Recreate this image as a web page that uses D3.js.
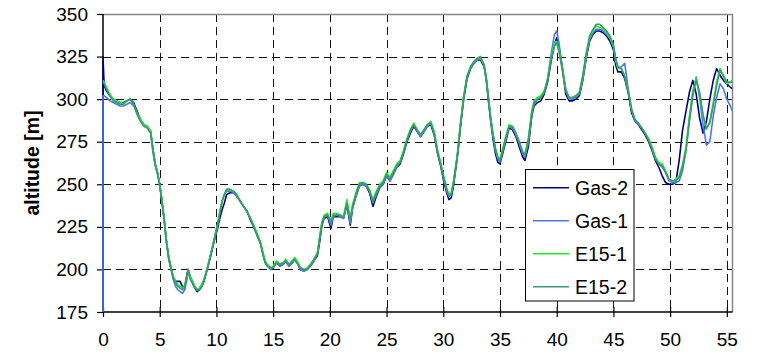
<!DOCTYPE html>
<html>
<head>
<meta charset="utf-8">
<script src="https://cdn.jsdelivr.net/npm/d3@7"></script>
<style>
  html, body { margin: 0; padding: 0; background: #fff; }
  svg { display: block; font-family: "Liberation Sans", Arial, sans-serif; }
</style>
</head>
<body>
<svg id="chart" width="758" height="355"></svg>
<script>
// Distance along the route [km]
const distanceKm = [
  0, 0, 0.1, 0.3, 0.6, 0.9, 1.2, 1.5, 1.8, 2.1,
  2.4, 2.7, 3.0, 3.3, 3.6, 3.9, 4.2, 4.4, 4.6, 4.8,
  5.0, 5.2, 5.4, 5.6, 5.8, 6.0, 6.2, 6.4, 6.6, 6.8,
  7.0, 7.2, 7.4, 7.5, 7.7, 7.9, 8.1, 8.3, 8.5, 8.7,
  8.9, 9.1, 9.3, 9.5, 9.7, 9.9, 10.1, 10.3, 10.5, 10.7,
  10.9, 11.2, 11.5, 11.8, 12.1, 12.4, 12.7, 13.0, 13.3, 13.6,
  13.9, 14.1, 14.3, 14.5, 14.8, 15.0, 15.3, 15.6, 15.9, 16.1,
  16.4, 16.7, 16.9, 17.2, 17.4, 17.7, 18.0, 18.3, 18.6, 18.9,
  19.1, 19.3, 19.5, 19.8, 20.1, 20.3, 20.6, 20.9, 21.2, 21.5,
  21.8, 22.0, 22.3, 22.6, 22.9, 23.2, 23.5, 23.8, 24.1, 24.4,
  24.7, 25.0, 25.3, 25.6, 25.9, 26.2, 26.5, 26.8, 27.1, 27.4,
  27.7, 28.0, 28.3, 28.6, 28.9, 29.2, 29.5, 29.8, 30.0, 30.3,
  30.5, 30.7, 30.9, 31.1, 31.3, 31.5, 31.8, 32.1, 32.4, 32.7,
  33.0, 33.3, 33.6, 33.8, 34.0, 34.2, 34.4, 34.6, 34.8, 35.0,
  35.2, 35.5, 35.8, 36.1, 36.4, 36.7, 37.0, 37.2, 37.5, 37.8,
  38.0, 38.3, 38.6, 38.9, 39.2, 39.5, 39.8, 40.0, 40.2, 40.5,
  40.8, 41.1, 41.4, 41.7, 42.0, 42.3, 42.6, 42.9, 43.2, 43.5,
  43.8, 44.1, 44.4, 44.7, 45.0, 45.2, 45.4, 45.7, 46.0, 46.3,
  46.6, 46.9, 47.2, 47.5, 47.8, 48.1, 48.4, 48.7, 49.0, 49.3,
  49.6, 49.9, 50.2, 50.5, 50.8, 51.1, 51.4, 51.7, 52.0, 52.3,
  52.6, 52.9, 53.2, 53.5, 53.8, 54.1, 54.4, 54.7, 55.0, 55.3,
  55.5
];

// Altitude [m] logged on each run
const gas2 = [
  165, 325, 308, 305, 302, 300, 299, 298, 298, 299,
  300, 298, 293, 288, 285, 284, 281, 271, 262, 257,
  250, 240, 229, 216, 207, 201, 195, 193, 193, 193,
  190, 189, 197, 200, 195, 192, 189, 187, 188, 190,
  193, 198, 203, 208, 214, 219, 224, 230, 235, 239,
  244, 245, 245, 243, 240, 237, 234, 229, 225, 220,
  215, 209, 204, 202, 200, 201, 204, 202, 203, 205,
  202, 204, 206, 203, 200, 199, 200, 202, 205, 208,
  216, 226, 230, 231, 224, 231, 231, 231, 230, 238,
  226, 236, 243, 249, 250, 249, 245, 237, 243, 248,
  250, 255, 252, 256, 260, 262, 268, 275, 280, 284,
  281, 278, 281, 284, 285, 279, 268, 260, 253, 245,
  241, 242, 249, 259, 269, 283, 300, 312, 318, 321,
  323, 323, 319, 311, 298, 286, 276, 268, 263, 262,
  267, 275, 283, 282, 278, 272, 266, 264, 272, 290,
  296, 298, 299, 303, 310, 322, 332, 336, 330, 318,
  303, 299, 299, 300, 302, 311, 324, 334, 338, 340,
  340, 339, 337, 334, 329, 320, 316, 316, 312, 304,
  292, 287, 285, 282, 279, 275, 270, 264, 260, 255,
  251, 250, 250, 251, 264, 282, 293, 304, 311, 303,
  289, 280, 287, 300, 311, 318, 314, 311, 309, 307,
  306
];

const gas1 = [
  165, 302, 302, 301, 299, 298, 297, 296, 296, 297,
  298, 296, 292, 288, 285, 284, 281, 271, 262, 257,
  250, 241, 230, 217, 206, 200, 194, 190, 188, 187,
  186, 188, 194, 200, 196, 193, 190, 188, 189, 191,
  194, 198, 203, 209, 215, 221, 227, 234, 240, 244,
  246, 246, 245, 243, 240, 237, 234, 230, 225, 220,
  215, 209, 204, 202, 200, 201, 204, 202, 203, 205,
  202, 204, 206, 203, 200, 199, 200, 202, 205, 209,
  218, 227, 231, 232, 226, 231, 232, 231, 230, 239,
  227, 236, 243, 249, 250, 249, 246, 239, 244, 248,
  250, 255, 252, 256, 260, 263, 269, 276, 281, 285,
  281, 278, 281, 284, 286, 280, 269, 261, 254, 246,
  243, 244, 250, 260, 270, 284, 301, 313, 318, 321,
  323, 324, 320, 311, 299, 287, 278, 270, 265, 263,
  268, 276, 284, 283, 279, 274, 268, 266, 274, 291,
  297, 300, 301, 304, 312, 326, 338, 340, 333, 319,
  305, 300, 300, 301, 303, 312, 325, 335, 339, 341,
  341, 340, 338, 336, 331, 323, 318, 319, 321, 306,
  294, 287, 285, 283, 280, 276, 271, 265, 262, 260,
  257, 252, 251, 251, 252, 258, 270, 287, 302, 313,
  301, 285, 273, 275, 290, 301, 309, 306, 300, 296,
  293
];

const e15_1 = [
  311, 311, 310, 307, 303, 300, 299, 298, 297.5, 299,
  300, 297, 292, 288, 285, 284, 281, 270, 262, 257,
  250, 240, 229, 216, 207, 201, 196, 193, 191, 190,
  189, 191, 196, 199, 195, 193, 190, 188, 189, 191,
  194, 199, 204, 209, 215, 220, 226, 234, 240, 244,
  247, 247, 246, 244, 240, 237, 234, 230, 226, 221,
  216, 210, 205, 203, 201, 202, 205, 203, 204, 206,
  203, 205, 207, 204, 201, 200, 201, 203, 206, 210,
  219, 228, 232, 233, 228, 233, 233, 232, 231, 241,
  230, 238, 245, 251, 251, 250, 247, 241, 246, 250,
  252, 257, 254, 258, 262, 264, 270, 277, 282, 286,
  282, 279, 282, 285, 287, 281, 270, 262, 256, 248,
  244, 245, 252, 261, 271, 285, 302, 314, 319, 322,
  324, 324, 320, 312, 300, 288, 279, 271, 266, 265,
  270, 278, 285, 284, 280, 275, 269, 268, 277, 293,
  299, 301, 302, 305, 312, 324, 333, 334, 329, 318,
  306, 301, 301, 302, 304, 313, 326, 336, 340, 343,
  342, 341, 339, 336, 331, 323, 318, 318, 314, 305,
  294, 288, 286, 283, 280, 277, 272, 266, 263, 262,
  258, 253, 252, 253, 255, 262, 272, 290, 305, 312,
  303, 290, 282, 287, 298, 310, 318, 313, 309, 310,
  311
];

const e15_2 = [
  310, 310, 309, 306, 302, 299, 298, 297, 297, 299,
  300, 297, 291, 287, 284, 283, 280, 269, 261, 256,
  249, 239, 228, 215, 206, 200, 195, 192, 190, 189,
  188, 190, 196, 199, 194, 192, 189, 188, 188, 190,
  193, 198, 203, 209, 214, 220, 226, 233, 240, 244,
  247, 247, 246, 244, 240, 237, 234, 230, 225, 220,
  215, 209, 204, 202, 201, 201, 204, 203, 204, 205,
  203, 205, 206, 203, 201, 200, 200, 203, 206, 209,
  218, 227, 231, 232, 228, 232, 232, 232, 230, 239,
  229, 237, 244, 250, 251, 250, 246, 240, 245, 249,
  251, 256, 253, 257, 261, 263, 269, 276, 282, 285,
  282, 279, 282, 285, 286, 280, 269, 261, 255, 247,
  243, 244, 251, 260, 270, 284, 301, 313, 319, 322,
  324, 325, 320, 312, 300, 288, 279, 271, 266, 264,
  269, 277, 284, 284, 280, 275, 269, 267, 276, 292,
  298, 300, 301, 304, 311, 323, 331, 333, 328, 317,
  305, 301, 301, 302, 304, 314, 327, 337, 341, 344,
  344, 342, 340, 337, 332, 324, 319, 318, 313, 305,
  294, 288, 286, 283, 280, 276, 271, 265, 262, 261,
  257, 253, 252, 252, 254, 260, 270, 288, 303, 311,
  304, 291, 283, 286, 296, 308, 317, 314, 310, 310,
  310
];

const seriesNames = ["Gas-2", "Gas-1", "E15-1", "E15-2"];
const seriesValues = [gas2, gas1, e15_1, e15_2];
const seriesColors = ["#000080", "#4a78f0", "#22ee22", "#3a9a6a"];

const xTicks = [0, 5, 10, 15, 20, 25, 30, 35, 40, 45, 50, 55];
const yTicks = [175, 200, 225, 250, 275, 300, 325, 350];
const yTitle = "altitude [m]";

// ---- layout ----
const svg = d3.select("#chart");
const plotL = 103, plotR = 732.5, plotT = 14, plotB = 312;

const x = d3.scaleLinear().domain([0, 55.5]).range([plotL, plotR]);
const y = d3.scaleLinear().domain([175, 350]).range([plotB, plotT]);

svg.append("defs").append("clipPath").attr("id", "plotClip")
  .append("rect").attr("x", plotL - 1).attr("y", plotT)
  .attr("width", plotR - plotL + 1).attr("height", plotB - plotT);

// dashed grid
const grid = svg.append("g").attr("stroke", "#111").attr("stroke-width", 1)
  .attr("stroke-dasharray", "8,5").attr("shape-rendering", "crispEdges");
grid.selectAll("line.v").data(xTicks.filter(d => d > 0)).join("line")
  .attr("class", "v")
  .attr("x1", d => Math.round(x(d)) + 0.5).attr("x2", d => Math.round(x(d)) + 0.5)
  .attr("y1", plotT).attr("y2", plotB);
grid.selectAll("line.h").data(yTicks.filter(d => d > 175 && d < 350)).join("line")
  .attr("class", "h")
  .attr("y1", d => Math.round(y(d)) + 0.5).attr("y2", d => Math.round(y(d)) + 0.5)
  .attr("x1", plotL).attr("x2", plotR);

// frame: grey top/right edges
svg.append("path")
  .attr("d", `M${plotL},${plotT + 0.5}H${plotR}V${plotB}`)
  .attr("fill", "none").attr("stroke", "#888").attr("stroke-width", 1.5);

// axes
const xAxis = d3.axisBottom(x).tickValues(xTicks).tickSize(5).tickPadding(16);
const gx = svg.append("g").attr("transform", `translate(0,${plotB})`).call(xAxis);
const yAxis = d3.axisLeft(y).tickValues(yTicks).tickSize(6).tickPadding(9);
const gy = svg.append("g").attr("transform", `translate(${plotL},0)`).call(yAxis);

[gx, gy].forEach(g => {
  g.select(".domain").attr("stroke", "#000").attr("stroke-width", 1.5);
  g.selectAll(".tick line").attr("stroke", "#000").attr("stroke-width", 1.2);
  g.selectAll(".tick text").attr("font-size", 19).attr("fill", "#000")
    .attr("font-family", "'Liberation Sans', Arial, sans-serif");
});
gx.selectAll(".tick line").attr("y1", -5).attr("y2", 5);
gy.select(".domain").attr("d", `M0,${plotT}V${plotB}`);
gx.select(".domain").attr("d", `M${plotL},0H${plotR}`);

// series lines, drawn over the axes
const line = d3.line()
  .x((d, i) => x(distanceKm[i]))
  .y(d => y(d));
const lines = svg.append("g").attr("clip-path", "url(#plotClip)");
seriesValues.forEach((vals, k) => {
  lines.append("path")
    .datum(vals)
    .attr("d", line)
    .attr("fill", "none")
    .attr("stroke", seriesColors[k])
    .attr("stroke-width", 1.6)
    .attr("stroke-linejoin", "round");
});

// axis title
svg.append("text")
  .attr("transform", `translate(39,${(plotT + plotB) / 2}) rotate(-90)`)
  .attr("text-anchor", "middle")
  .attr("font-size", 19.5).attr("font-weight", "bold")
  .text(yTitle);

// legend
const lg = svg.append("g");
lg.append("rect")
  .attr("x", 525.5).attr("y", 169.5).attr("width", 108.5).attr("height", 131.5)
  .attr("fill", "#fff").attr("stroke", "#000").attr("stroke-width", 1);
seriesNames.forEach((name, k) => {
  const cy = 187.7 + k * 33;
  lg.append("line").attr("x1", 533).attr("x2", 569)
    .attr("y1", cy).attr("y2", cy)
    .attr("stroke", seriesColors[k]).attr("stroke-width", 1.6);
  lg.append("text").attr("x", 575).attr("y", cy).attr("dy", "0.36em")
    .attr("font-size", 19.5).text(name);
});
</script>
</body>
</html>
